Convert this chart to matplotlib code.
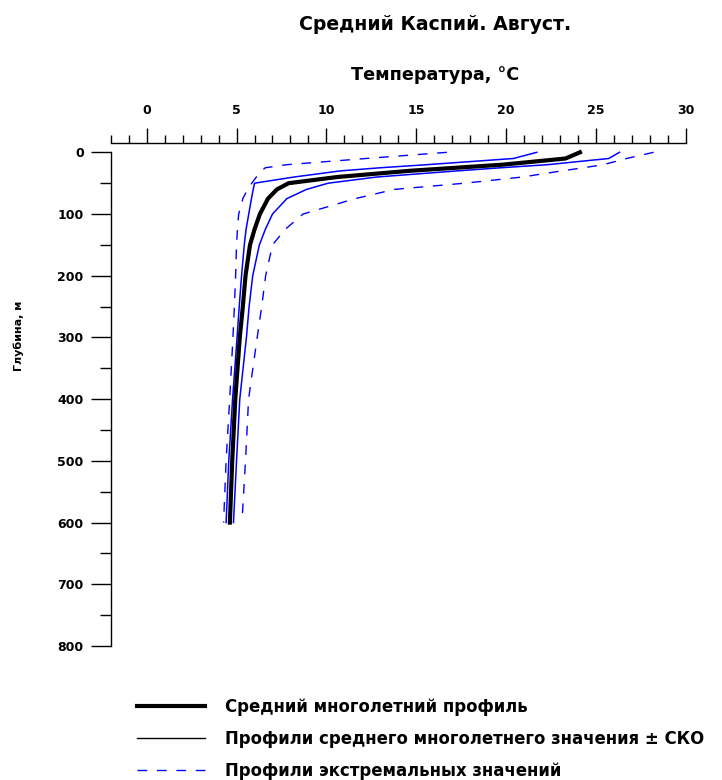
import matplotlib
matplotlib.use("Agg")
from matplotlib import pyplot as plt
from matplotlib.lines import Line2D
from matplotlib.ticker import MultipleLocator

plt.rcParams['font.family'] = ['DejaVu Sans']
plt.rcParams['font.weight'] = 'bold'

# Глубины, м
depths = [0, 10, 20, 25, 30, 40, 50, 60, 75, 100, 125, 150, 200, 250, 300, 400, 500, 600]
# Средний многолетний профиль
t_mean = [24.1, 23.3, 19.8, 17.2, 14.6, 10.6, 7.9, 7.25, 6.75, 6.3, 6.0, 5.75, 5.5, 5.35, 5.18, 4.93, 4.76, 4.63]
# Среднее - СКО / среднее + СКО
t_minus_sd = [21.7, 20.4, 15.6, 13.0, 10.8, 8.2, 6.0, 5.93, 5.83, 5.68, 5.53, 5.43, 5.28, 5.15, 5.03, 4.78, 4.57, 4.42]
t_plus_sd = [26.3, 25.7, 22.3, 19.7, 17.3, 12.8, 10.1, 8.9, 7.8, 7.0, 6.6, 6.27, 5.9, 5.7, 5.55, 5.18, 5.0, 4.83]
# Экстремальные значения
t_min = [16.7, 12.2, 7.8, 6.6, 6.4, 6.1, 5.85, 5.62, 5.35, 5.12, 5.05, 5.0, 4.95, 4.88, 4.8, 4.62, 4.42, 4.28]
t_max = [28.2, 26.7, 25.4, 24.3, 23.1, 20.9, 17.7, 13.8, 11.6, 8.7, 7.7, 7.0, 6.62, 6.4, 6.15, 5.67, 5.5, 5.3]

legend_labels = ['Средний многолетний профиль',
                 'Профили среднего многолетнего значения ± СКО',
                 'Профили экстремальных значений']

fig = plt.figure(figsize=(7.22, 7.8), dpi=100)
ax = fig.add_axes([0.1533, 0.1718, 0.7968, 0.6329])

dash = (0, (7, 7))
for t in (t_min, t_max):
    ax.plot(t, depths, color='blue', lw=1.0, linestyle=dash, clip_on=False)
for t in (t_minus_sd, t_plus_sd):
    ax.plot(t, depths, color='blue', lw=1.1, clip_on=False)
ax.plot(t_mean, depths, color='black', lw=3.0, clip_on=False)

ax.set_xlim(-2, 30)
ax.set_ylim(800, 0)

# Оси: температура сверху, глубина слева
ax.xaxis.tick_top()
ax.spines['bottom'].set_visible(False)
ax.spines['right'].set_visible(False)
ax.spines['top'].set_position(('outward', 6.5))
for s in ('top', 'left'):
    ax.spines[s].set_linewidth(1.0)

ax.xaxis.set_major_locator(MultipleLocator(5))
ax.xaxis.set_minor_locator(MultipleLocator(1))
ax.yaxis.set_major_locator(MultipleLocator(100))
ax.yaxis.set_minor_locator(MultipleLocator(50))

ax.tick_params(axis='x', which='major', length=10.8, width=1.0, pad=8, labelsize=9)
ax.tick_params(axis='x', which='minor', length=5.8, width=1.0)
ax.tick_params(axis='y', which='major', length=14.4, width=1.0, pad=5, labelsize=9)
ax.tick_params(axis='y', which='minor', length=8, width=1.0)
for lbl in ax.get_xticklabels() + ax.get_yticklabels():
    lbl.set_fontweight('bold')

# Подписи
fig.text(435 / 722, 1 - 25 / 780, 'Средний Каспий. Август.', ha='center', va='center',
         fontsize=13.6, fontweight='bold')
fig.text(435 / 722, 1 - 74.5 / 780, 'Температура, °С', ha='center', va='center',
         fontsize=12.7, fontweight='bold')
fig.text(19 / 722, 1 - 336 / 780, 'Глубина, м', ha='center', va='center', rotation=90,
         fontsize=8, fontweight='bold')

# Легенда
handles = [Line2D([], [], color='black', lw=3.0),
           Line2D([], [], color='black', lw=1.0),
           Line2D([], [], color='blue', lw=1.0, linestyle=dash)]
fig.legend(handles, legend_labels, loc='upper left', bbox_to_anchor=(137 / 722, 1 - 698 / 780),
           frameon=False, borderpad=0, borderaxespad=0, handlelength=4.1, handletextpad=1.25,
           labelspacing=0.84, prop={'size': 11.9, 'weight': 'bold'})

plt.savefig('out.png', dpi=100, facecolor='white')
plt.close(fig)
